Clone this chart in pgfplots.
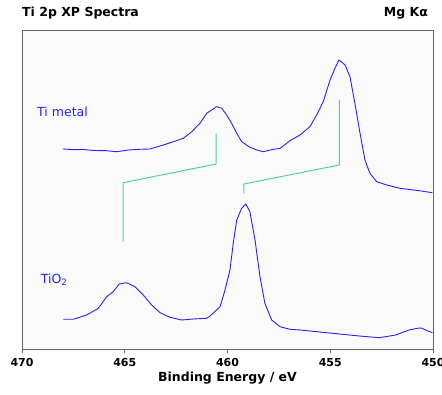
\documentclass[border=0pt]{standalone}
\usepackage{pgfplots}
\pgfplotsset{compat=1.18}
\usepackage{fontspec}
\setmainfont{DejaVu Sans}
\definecolor{specblue}{RGB}{35,35,250}
\definecolor{markgreen}{RGB}{80,215,140}
\definecolor{plotbg}{RGB}{250,250,250}
\definecolor{framegray}{RGB}{100,100,100}
\begin{document}
\begin{tikzpicture}
\useasboundingbox (-22pt,-46pt) rectangle (420pt,349pt);
\begin{axis}[
  scale only axis,
  width=411pt, height=319pt,
  at={(0pt,0pt)}, anchor=south west,
  x dir=reverse,
  xmin=450, xmax=470, ymin=0, ymax=319,
  xtick={450,455,...,470},
  ytick=\empty,
  xtick pos=bottom,
  tick align=outside,
  major tick length=4pt,
  tick style={framegray, line width=0.8pt},
  axis line style={framegray, line width=0.9pt},
  axis background/.style={fill=plotbg},
  /pgf/number format/assume math mode=true,
  xticklabel style={font=\fontsize{11}{13}\selectfont\bfseries, yshift=-2pt},
  xlabel={Binding Energy / eV},
  xlabel style={font=\fontsize{12.5}{14}\selectfont\bfseries, yshift=2pt},
  clip=false,
]
\addplot[specblue, line width=0.9pt, line join=round] coordinates {
(468.0,200) (467.5,199.3) (467.04,199.5) (466.5,198.5) (465.9,198.3) (465.4,197.3)
(464.8,199) (464.27,199.7) (463.77,200) (463.12,204) (462.64,207.3) (462.15,210.7)
(461.74,217.3) (461.34,225.7) (461.01,235.7) (460.77,239) (460.53,242.3)
(460.28,240.7) (460.04,234) (459.8,225.7) (459.55,215.7) (459.31,207.3)
(458.91,201.7) (458.58,199) (458.26,197.3) (457.77,199.7) (457.45,200.5)
(457.15,205.2) (456.96,208.3) (456.47,214) (455.99,222.3) (455.66,234)
(455.34,247.3) (455.01,269) (454.77,280.7) (454.57,289) (454.28,284)
(454.04,272.3) (453.8,245.7) (453.55,215.7) (453.31,189) (453.07,175.7)
(452.74,167.3) (452.25,164) (451.61,160.7) (450.68,158.3) (450.03,156.3)
};
\addplot[specblue, line width=0.9pt, line join=round] coordinates {
(467.99,29.7) (467.5,29.7) (466.85,34) (466.29,40.7) (465.88,52.3) (465.56,57.3)
(465.27,65) (464.91,66.3) (464.5,62.3) (464.1,54) (463.69,44) (463.28,36.3)
(462.8,31.7) (462.23,29) (461.66,30) (461.01,30.7) (460.85,33) (460.36,42.3)
(460.12,59) (459.88,79) (459.72,105.7) (459.55,129) (459.31,140.7) (459.11,145)
(458.91,137.3) (458.66,109) (458.42,72.3) (458.18,45.7) (457.85,29) (457.45,22.3)
(456.96,19.7) (456.47,19) (454.89,15.7) (453.59,13) (452.62,11.3) (451.81,14)
(451.17,19) (450.76,20.7) (450.57,21) (450.36,19) (450.03,16.3)
};
\addplot[markgreen, line width=1pt] coordinates {
(465.08,107.3) (465.08,166.3) (460.55,185) (460.55,215.7)
};
\addplot[markgreen, line width=1pt] coordinates {
(459.2,155.7) (459.2,165) (454.56,184) (454.56,249)
};
\node[anchor=west, text=specblue, font=\fontsize{12.5}{14}\selectfont, inner sep=0pt] at (axis cs:469.27,237) {Ti metal};
\node[anchor=west, text=specblue, font=\fontsize{12.5}{14}\selectfont, inner sep=0pt] at (axis cs:469.09,69) {TiO\textsubscript{2}};
\node[anchor=west, font=\fontsize{12.5}{14}\selectfont\bfseries, inner sep=0pt] at (rel axis cs:0,1.053) {Ti 2p XP Spectra};
\node[anchor=east, font=\fontsize{12.5}{14}\selectfont\bfseries, inner sep=0pt] at (rel axis cs:0.988,1.053) {Mg Kα};
\end{axis}
\end{tikzpicture}
\end{document}
